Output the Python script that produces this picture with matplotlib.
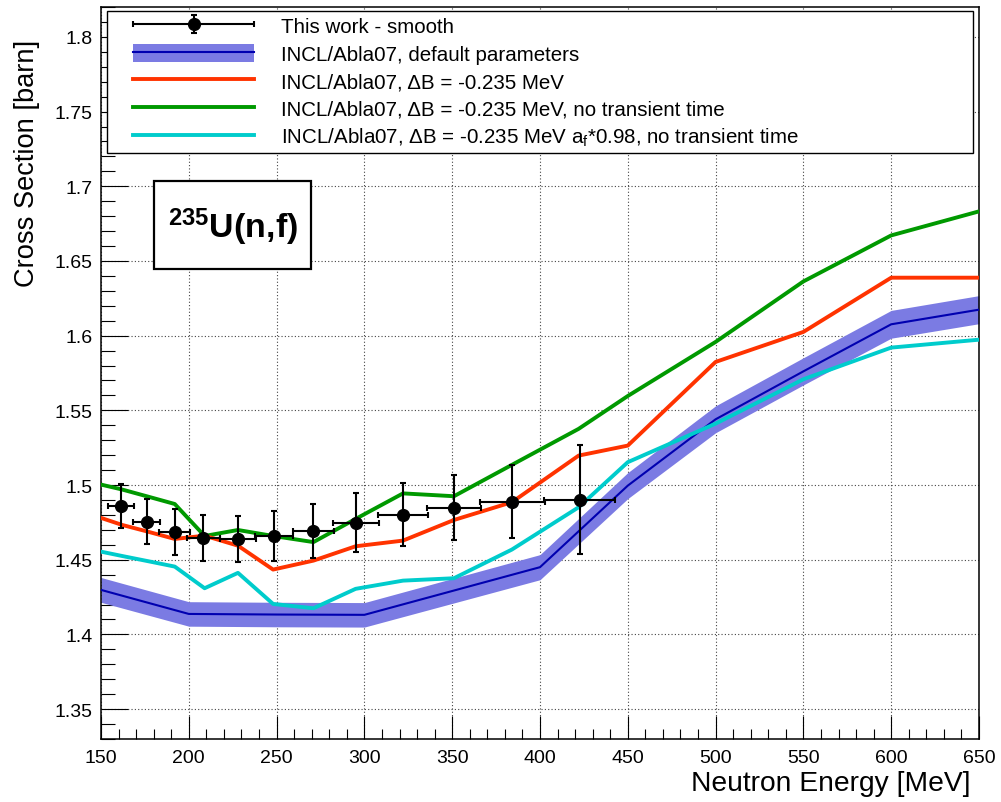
import matplotlib
matplotlib.use("Agg")
import matplotlib.pyplot as plt
from matplotlib.lines import Line2D
from matplotlib.patches import Patch, Rectangle
from matplotlib.container import ErrorbarContainer
from matplotlib.legend_handler import HandlerErrorbar, HandlerLine2D, HandlerTuple
from matplotlib.ticker import MultipleLocator, FuncFormatter

plt.rcParams['font.family'] = ['Liberation Sans', 'DejaVu Sans']
plt.rcParams['mathtext.fontset'] = 'custom'
plt.rcParams['mathtext.rm'] = 'Liberation Sans'
plt.rcParams['mathtext.bf'] = 'Liberation Sans:bold'
plt.rcParams['mathtext.it'] = 'Liberation Sans:italic'

# measured fission cross section (smoothed), bin centres and half widths
E_data = [161.5, 176, 192, 208.3, 228, 248.6, 271, 295.2, 322.2, 351, 384.3, 422.6]
E_halfwidth = [7.3, 7.8, 8.7, 9.5, 10.3, 10.9, 11.9, 12.9, 14.2, 15.4, 18.5, 20.2]
xs_data = [1.4862, 1.4755, 1.4684, 1.4646, 1.4639, 1.4657, 1.4693, 1.4748, 1.4801, 1.4849, 1.4889, 1.4902]
xs_err = [0.0148, 0.0151, 0.0154, 0.0152, 0.0157, 0.0167, 0.018, 0.0198, 0.0211, 0.0217, 0.0244, 0.0367]

# INCL/Abla07 default parameters with uncertainty band
E_default = [150, 200, 250, 300, 400, 450, 500, 550, 600, 650]
xs_default = [1.4298, 1.4137, 1.4133, 1.4131, 1.4450, 1.4996, 1.5440, 1.5761, 1.6076, 1.6174]
xs_default_err = [0.0083, 0.0082, 0.0082, 0.0082, 0.0084, 0.0087, 0.0090, 0.0091, 0.0093, 0.0094]

# INCL/Abla07 variations
E_model = [150, 162, 176, 192, 209, 228, 248, 271, 295, 322, 351, 384, 422, 450, 500, 550, 600, 650]
xs_dB = [1.4780, 1.4733, 1.4690, 1.4639, 1.4661, 1.4594, 1.4434, 1.4494, 1.4590, 1.4628, 1.4766,
         1.4885, 1.5197, 1.5264, 1.5824, 1.6025, 1.6388, 1.6388]
xs_dB_notr = [1.5003, 1.4970, 1.4925, 1.4873, 1.4659, 1.4699, 1.4659, 1.4618, 1.4773, 1.4944, 1.4925,
              1.5135, 1.5376, 1.5596, 1.5958, 1.6363, 1.6671, 1.6832]
xs_dB_af_notr = [1.4554, 1.4525, 1.4492, 1.4454, 1.4309, 1.4412, 1.4204, 1.4175, 1.4305, 1.4360, 1.4376,
                 1.4568, 1.4851, 1.5153, 1.5411, 1.5708, 1.5920, 1.5973]

labels = ["This work - smooth",
          "INCL/Abla07, default parameters",
          "INCL/Abla07, \u0394B = -0.235 MeV",
          "INCL/Abla07, \u0394B = -0.235 MeV, no transient time",
          "INCL/Abla07, \u0394B = -0.235 MeV a$_\\mathrm{f}$*0.98, no transient time"]

band_color = '#7b7be3'
blue_color = '#0000b0'
red_color = '#ff3300'
green_color = '#009900'
cyan_color = '#00cccc'

fig = plt.figure(figsize=(10.01, 8.03), dpi=100)
ax = fig.add_axes([0.1009, 0.0785, 0.8771, 0.9115])

lo = [v - e for v, e in zip(xs_default, xs_default_err)]
hi = [v + e for v, e in zip(xs_default, xs_default_err)]
ax.fill_between(E_default, lo, hi, color=band_color, lw=0, zorder=2)
blue_line, = ax.plot(E_default, xs_default, color=blue_color, lw=1.5, zorder=3)
cyan_line, = ax.plot(E_model, xs_dB_af_notr, color=cyan_color, lw=2.8, zorder=3)
green_line, = ax.plot(E_model, xs_dB_notr, color=green_color, lw=2.8, zorder=3)
red_line, = ax.plot(E_model, xs_dB, color=red_color, lw=2.8, zorder=3)
data = ax.errorbar(E_data, xs_data, xerr=E_halfwidth, yerr=xs_err, fmt='o', color='black',
                   ms=8.5, elinewidth=1.5, capsize=2.5, capthick=1.5, zorder=5)

ax.set_xlim(150, 650)
ax.set_ylim(1.33, 1.82)
ax.xaxis.set_major_locator(MultipleLocator(50))
ax.xaxis.set_minor_locator(MultipleLocator(10))
ax.yaxis.set_major_locator(MultipleLocator(0.05))
ax.yaxis.set_minor_locator(MultipleLocator(0.01))
ax.yaxis.set_major_formatter(FuncFormatter(lambda v, p: '%g' % round(v, 3)))
ax.xaxis.set_major_formatter(FuncFormatter(lambda v, p: '%g' % v))
ax.tick_params(which='both', direction='in', top=False, right=False, width=0.8, labelsize=14)
ax.tick_params(axis='x', which='major', length=16.5, pad=7)
ax.tick_params(axis='x', which='minor', length=7)
ax.tick_params(axis='y', which='major', length=19.5, pad=6)
ax.tick_params(axis='y', which='minor', length=10)
ax.grid(True, which='major', ls=(0, (1, 2)), color='#444444', lw=0.8)
ax.set_axisbelow(True)
for s in ax.spines.values():
    s.set_linewidth(1.1)

ax.set_xlabel("Neutron Energy [MeV]", fontsize=20.3, loc='right')
ax.xaxis.set_label_coords(0.99, -0.043)
ax.set_ylabel("Cross Section [barn]", fontsize=19.6, loc='top')
ax.yaxis.set_label_coords(-0.07, 0.956)

# reaction label
ax.add_patch(Rectangle((0.0604, 0.642), 0.1788, 0.1203, transform=ax.transAxes,
                       fill=True, facecolor='white', edgecolor='black', lw=1.6, zorder=6))
ax.text(0.1498, 0.700, r'$^{\mathbf{235}}\mathbf{U(n{,}f)}$', transform=ax.transAxes,
        ha='center', va='center', fontsize=24.5, zorder=7)

band_handle = (Patch(facecolor=band_color, lw=0), Line2D([], [], color=blue_color, lw=1.5))
xp = 1.02
leg = ax.legend([data, band_handle, red_line, green_line, cyan_line], labels,
                loc='upper left', bbox_to_anchor=(0.0068, 0.0, 0.9863, 0.9945), mode='expand',
                borderaxespad=0, fontsize=14.8, handlelength=6.9, handleheight=0.97,
                handletextpad=1.31, labelspacing=0.36, borderpad=0.25, fancybox=False,
                framealpha=1, edgecolor='black',
                handler_map={ErrorbarContainer: HandlerErrorbar(xerr_size=2.94, yerr_size=0.44, xpad=xp),
                             tuple: HandlerTuple(ndivide=1, pad=0, xpad=xp),
                             Line2D: HandlerLine2D(xpad=xp)})
leg.get_frame().set_linewidth(1.0)
leg.set_zorder(8)

fig.savefig("out.png", dpi=100)
